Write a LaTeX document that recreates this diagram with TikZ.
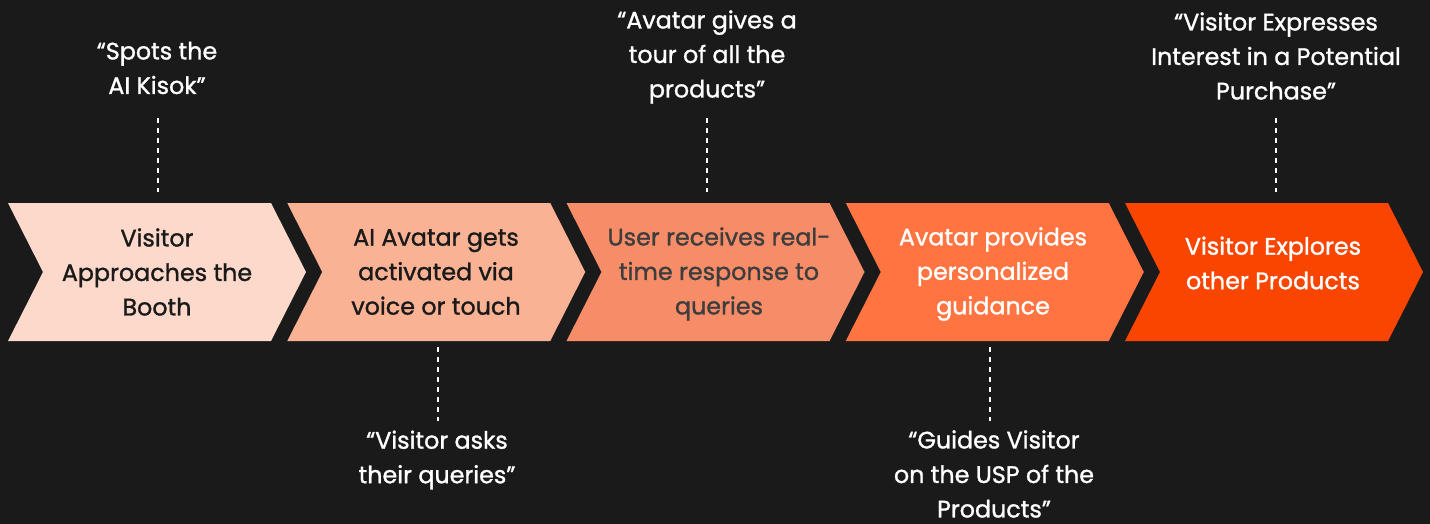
\documentclass[tikz,border=0pt]{standalone}
\usepackage{fontspec}
\setmainfont{Poppins}[FakeBold=1.2]
\definecolor{bg}{HTML}{1A1A1A}
\definecolor{cA}{HTML}{FCD9CA}
\definecolor{cB}{HTML}{F9B294}
\definecolor{cC}{HTML}{F78D68}
\definecolor{cD}{HTML}{FF7440}
\definecolor{cE}{HTML}{F94500}
\definecolor{darktext}{HTML}{1A1A1A}
\definecolor{graytext}{HTML}{3D3D3D}
\tikzset{
  steptext/.style={align=center,font=\fontsize{23.8}{34.5}\selectfont,inner sep=0pt},
  quote/.style={align=center,text=white,font=\fontsize{23.8}{34.5}\selectfont,inner sep=0pt},
  dotline/.style={draw=white,line width=2.6pt,dash pattern=on 5pt off 5pt}
}
\newcommand{\chev}[2]{%
  \fill[#2] (#1,203) -- ({#1+263},203) -- ({#1+298},272) -- ({#1+263},341) -- (#1,341) -- ({#1+35},272) -- cycle;}
\begin{document}
\begin{tikzpicture}[x=1pt,y=-1pt]
\fill[bg] (0,0) rectangle (1430,524);
\useasboundingbox (0,0) rectangle (1430,524);
\chev{8}{cA}
\chev{287.25}{cB}
\chev{566.5}{cC}
\chev{845.75}{cD}
\chev{1125}{cE}
\node[steptext,text=darktext] (s1) at (157,272) {Visitor\\Approaches the\\Booth};
\node[steptext,text=darktext] (s2) at (436,272) {AI Avatar gets\\activated via\\voice or touch};
\node[steptext,text=graytext] (s3) at (719,274) {User receives real-\\time response to\\queries};
\node[steptext,text=white] (s4) at (993,274) {Avatar provides\\personalized\\guidance};
\node[steptext,text=white] (s5) at (1273,263) {Visitor Explores\\other Products};
\node[quote] (q1) at (157,68) {“Spots the\\AI Kisok”};
\node[quote] (q3) at (707,57) {“Avatar gives a\\tour of all the\\products”};
\node[quote] (q5) at (1276,56) {“Visitor Expresses\\Interest in a Potential\\Purchase”};
\node[quote] (q2) at (437,460) {“Visitor asks\\their queries”};
\node[quote] (q4) at (994,474) {“Guides Visitor\\on the USP of the\\Products”};
\coordinate (t1) at (158,118); \coordinate (b1) at (158,192);
\coordinate (t3) at (707,118); \coordinate (b3) at (707,192);
\coordinate (t5) at (1276,118); \coordinate (b5) at (1276,192);
\coordinate (t2) at (438,347); \coordinate (b2) at (438,421);
\coordinate (t4) at (990,347); \coordinate (b4) at (990,421);
\draw[dotline] (t1) -- (b1);
\draw[dotline] (t3) -- (b3);
\draw[dotline] (t5) -- (b5);
\draw[dotline] (t2) -- (b2);
\draw[dotline] (t4) -- (b4);
\end{tikzpicture}
\end{document}
